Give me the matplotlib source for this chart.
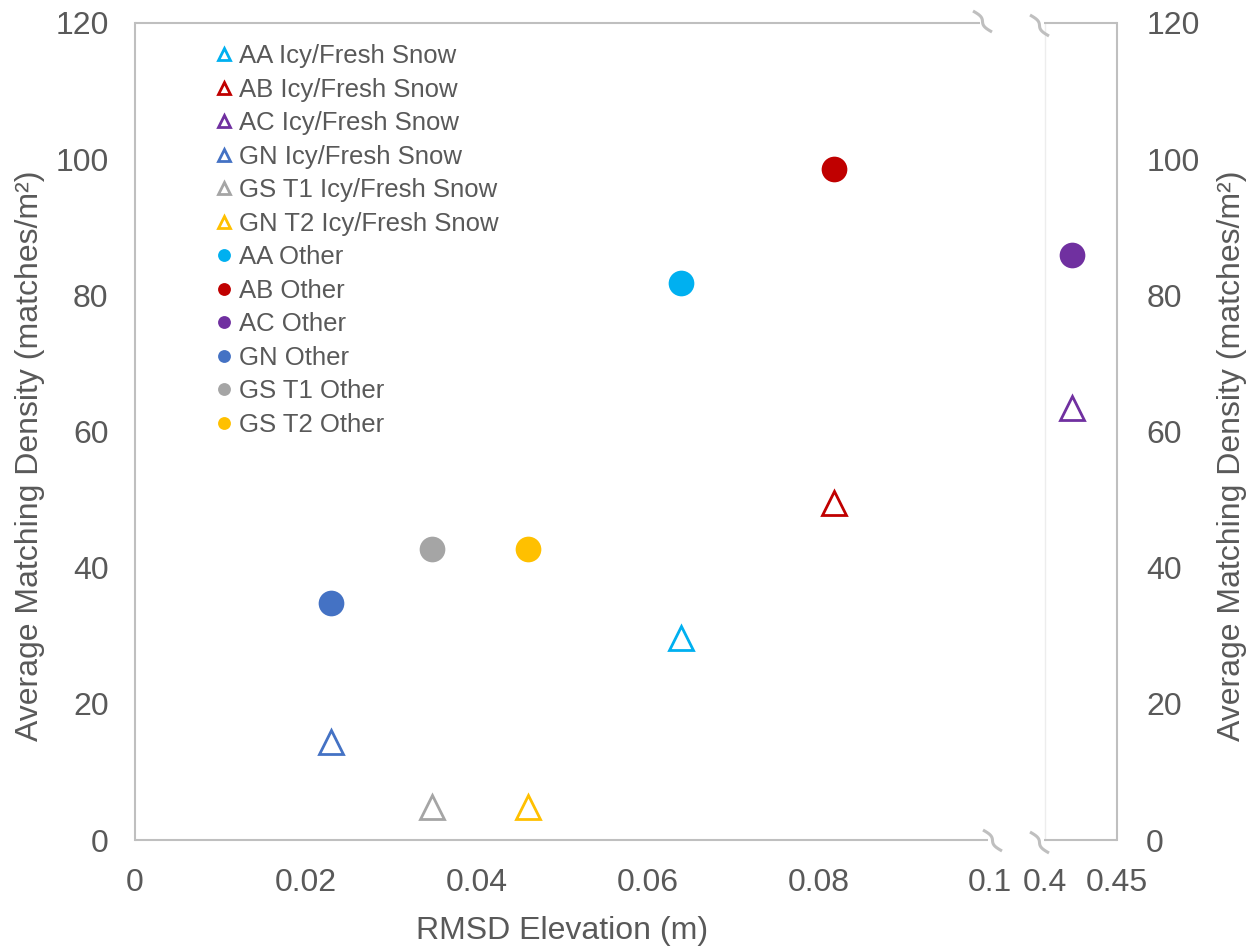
import matplotlib
matplotlib.use("Agg")
import matplotlib.pyplot as plt
from matplotlib.lines import Line2D
import numpy as np

plt.rcParams['font.family'] = ['Liberation Sans', 'DejaVu Sans']

# ---- data ----
icy_labels = ["AA Icy/Fresh Snow", "AB Icy/Fresh Snow", "AC Icy/Fresh Snow",
              "GN Icy/Fresh Snow", "GS T1 Icy/Fresh Snow", "GN T2 Icy/Fresh Snow"]
other_labels = ["AA Other", "AB Other", "AC Other", "GN Other", "GS T1 Other", "GS T2 Other"]
colors = ["#00B0F0", "#C00000", "#7030A0", "#4472C4", "#A5A5A5", "#FFC000"]
rmsd = [0.0639, 0.0818, 0.419, 0.0229, 0.0347, 0.0460]
icy_density = [29.7, 49.5, 63.5, 14.4, 4.8, 4.8]
other_density = [81.8, 98.5, 85.9, 34.8, 42.8, 42.8]

left_xticks = [0, 0.02, 0.04, 0.06, 0.08, 0.1]
left_xticklabels = ["0", "0.02", "0.04", "0.06", "0.08", "0.1"]
right_xticks = [0.4, 0.45]
right_xticklabels = ["0.4", "0.45"]
yticks = [0, 20, 40, 60, 80, 100, 120]

# ---- layout (pixel based) ----
W, H = 1256, 948
fig = plt.figure(figsize=(W / 100, H / 100), dpi=100)

def fx(x):
    return x / W

def fy(y):
    return 1 - y / H

TOP, BOT = 23, 840
ax1 = fig.add_axes([fx(135), fy(BOT), (990 - 135) / W, (BOT - TOP) / H])
ax2 = fig.add_axes([fx(1045), fy(BOT), (1117 - 1045) / W, (BOT - TOP) / H])

TXT = "#595959"
AXC = "#BFBFBF"
TS = 23

for ax, xl in ((ax1, (0, 0.1)), (ax2, (0.4, 0.45))):
    for i in range(6):
        ax.plot(rmsd[i], icy_density[i], linestyle="none", marker="^", ms=17,
                mfc="white", mec=colors[i], mew=2.0, label=icy_labels[i])
    for i in range(6):
        ax.plot(rmsd[i], other_density[i], linestyle="none", marker="o", ms=18.5,
                mfc=colors[i], mec=colors[i], mew=0, label=other_labels[i])
    ax.set_xlim(*xl)
    ax.set_ylim(0, 120)
    ax.set_yticks(yticks)
    ax.tick_params(length=0, labelsize=TS, labelcolor=TXT)
    for s in ax.spines.values():
        s.set_visible(False)

ax1.set_xticks(left_xticks)
ax1.set_xticklabels(left_xticklabels)
ax1.tick_params(axis="x", pad=20)
ax1.tick_params(axis="y", pad=19)
ax1.spines["left"].set_visible(True)
ax1.spines["left"].set_color(AXC)
ax1.spines["left"].set_linewidth(1.5)

ax2.set_xticks(right_xticks)
ax2.set_xticklabels(right_xticklabels)
ax2.tick_params(axis="x", pad=20)
ax2.yaxis.tick_right()
ax2.tick_params(axis="y", pad=21, length=0)
ax2.spines["right"].set_visible(True)
ax2.spines["right"].set_color(AXC)
ax2.spines["right"].set_linewidth(1.5)
ax2.spines["left"].set_visible(True)
ax2.spines["left"].set_color("#EDEDED")
ax2.spines["left"].set_linewidth(1.0)

def px_line(xs, ys, color=AXC, lw=1.5):
    fig.add_artist(Line2D([fx(x) for x in xs], [fy(y) for y in ys],
                          transform=fig.transFigure, color=color, lw=lw,
                          solid_capstyle="butt"))

# frame lines around the broken axis
px_line([135, 980], [TOP, TOP])
px_line([135, 988], [BOT, BOT])
px_line([1044, 1117], [TOP, TOP])
px_line([1044, 1117], [BOT, BOT])

# break marks
def squiggle(x0, y0, w=19, h=21):
    t = np.linspace(0, 1, 60)
    xs = x0 + w * (t + 0.9 * np.sin(2 * np.pi * t) / (2 * np.pi))
    ys = y0 + h * t
    px_line(xs, ys, lw=2.2)

squiggle(973, 11)
squiggle(1030, 15)
squiggle(983, 830)
squiggle(1030, 832)

# axis titles
fig.text(fx(562), fy(931), "RMSD Elevation (m)", ha="center", va="center",
         fontsize=TS, color=TXT)
ylab = "Average Matching Density (matches/m\u00b2)"
fig.text(fx(30), fy(456), ylab, ha="center", va="center", rotation=90,
         fontsize=TS, color=TXT)
fig.text(fx(1232), fy(456), ylab, ha="center", va="center", rotation=90,
         fontsize=TS, color=TXT)

# legend
handles, labels = ax2.get_legend_handles_labels()
leg = fig.legend(handles, labels, loc="upper left",
                 bbox_to_anchor=(fx(216), fy(44)), frameon=False,
                 fontsize=18.5, markerscale=0.5, handlelength=0.6,
                 handletextpad=0.3, labelspacing=0.37, borderpad=0,
                 borderaxespad=0)
for t in leg.get_texts():
    t.set_color(TXT)

fig.savefig("out.png", dpi=100)
